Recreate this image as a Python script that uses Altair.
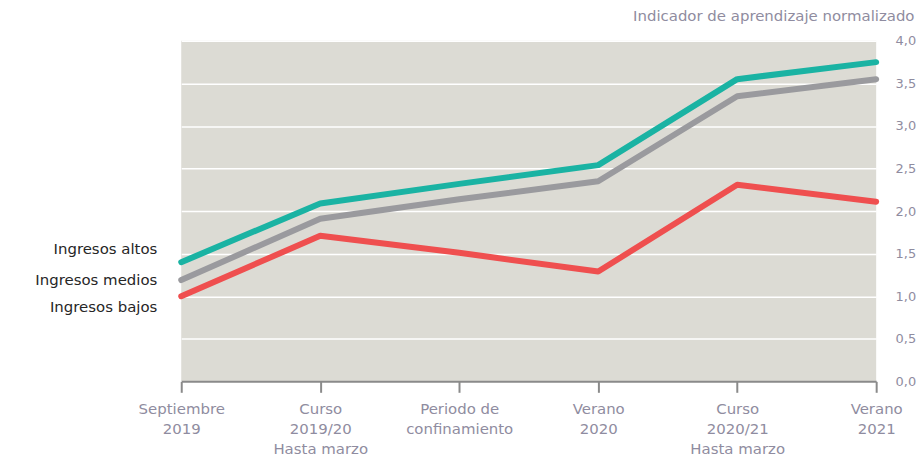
import altair as alt
import pandas as pd

periods = ["Septiembre|2019", "Curso|2019/20|Hasta marzo", "Periodo de|confinamiento",
           "Verano|2020", "Curso|2020/21|Hasta marzo", "Verano|2021"]
altos = [1.40, 2.09, 2.32, 2.54, 3.55, 3.75]
medios = [1.19, 1.91, 2.14, 2.35, 3.35, 3.55]
bajos = [1.00, 1.71, 1.51, 1.29, 2.31, 2.11]
series_names = ["Ingresos altos", "Ingresos medios", "Ingresos bajos"]
series_colors = ["#1ab3a3", "#9a9a9e", "#ef4f4f"]
y_ticks = [0, 0.5, 1, 1.5, 2, 2.5, 3, 3.5, 4]

rows = []
for name, vals in zip(series_names, [altos, medios, bajos]):
    for p, v in zip(periods, vals):
        rows.append({"periodo": p, "valor": v, "serie": name})
df = pd.DataFrame(rows)

FONT = "DejaVu Sans"
GRAYTXT = "#8f8ca0"
W, H = 698, 342

x_enc = alt.X("periodo:N", sort=periods, scale=alt.Scale(type="point", padding=0),
              axis=alt.Axis(title=None, labelAngle=0, labelExpr="split(datum.value, '|')",
                            labelColor=GRAYTXT, labelFont=FONT, labelFontSize=15,
                            labelPadding=9, labelLineHeight=20, labelBaseline="top",
                            domainColor="#8a8a8a", domainWidth=2, tickColor="#8a8a8a",
                            tickWidth=2, tickSize=11, grid=False))
y_enc = alt.Y("valor:Q", scale=alt.Scale(domain=[0, 4]),
              axis=alt.Axis(orient="right", values=y_ticks, domain=False, ticks=False,
                            labelExpr="replace(format(datum.value, '.1f'), '.', ',')",
                            labelColor=GRAYTXT, labelFont=FONT, labelFontSize=13,
                            labelPadding=19, gridColor="white", gridWidth=1.5,
                            title="Indicador de aprendizaje normalizado", titleAngle=0,
                            titleAlign="right", titleBaseline="bottom", titleX=38, titleY=-17,
                            titleFont=FONT, titleFontSize=15, titleFontWeight="normal",
                            titleColor=GRAYTXT))

lines = alt.Chart(df).mark_line(strokeWidth=6, strokeCap="round", strokeJoin="round").encode(
    x=x_enc, y=y_enc,
    color=alt.Color("serie:N", scale=alt.Scale(domain=series_names, range=series_colors), legend=None),
    order=alt.Order("serie:N"),
)

first = df[df["periodo"] == periods[0]]
label_dy = [-13, 0, 11]
label_layers = []
for name, dy in zip(series_names, label_dy):
    label_layers.append(
        alt.Chart(first[first["serie"] == name]).mark_text(
            align="right", baseline="middle", font=FONT, fontSize=15, color="#262626", dy=dy
        ).encode(x=alt.value(-24), y=alt.Y("valor:Q"), text="serie:N")
    )

chart = alt.layer(lines, *label_layers).properties(
    width=W, height=H,
    view=alt.ViewBackground(fill="#dcdbd4", stroke=None),
    autosize=alt.AutoSizeParams(type="none"),
    padding={"left": 174, "top": 32, "right": 40, "bottom": 80},
).configure(background="white")

chart.save("out.html", embed_options={"renderer": "svg", "actions": False})
